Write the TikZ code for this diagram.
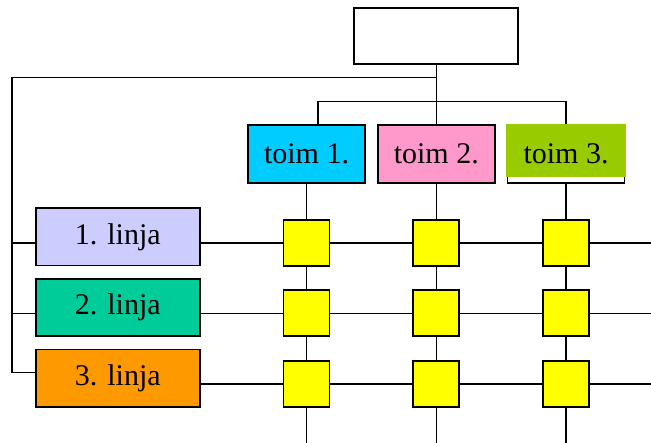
\documentclass[tikz,border=0pt]{standalone}
\usepackage{fontspec}
\setmainfont{Liberation Serif}
\usepackage{xcolor}
\usepackage{tikz}
\usetikzlibrary{positioning, calc}
\definecolor{toimcyan}{HTML}{00CCFF}
\definecolor{toimpink}{HTML}{FF99CC}
\definecolor{toimgreen}{HTML}{99CC00}
\definecolor{linjablue}{HTML}{CCCCFF}
\definecolor{linjateal}{HTML}{00CC99}
\definecolor{linjaorange}{HTML}{FF9900}
\definecolor{cellyellow}{HTML}{FFFF00}

\begin{document}
\begin{tikzpicture}[x=1pt, y=-1pt, every node/.style={font=\fontsize{30}{36}\selectfont}]
	\tikzstyle{conn}=[line width=1.5pt, draw=black]
	
	\tikzstyle{toimr}=[draw=black, line width=1.8pt, minimum height=58pt, minimum width=117pt, text=black, inner sep=0pt]
	
	\tikzstyle{linjar}=[draw=black, line width=1.8pt, minimum height=57.5pt, minimum width=164pt, text=black, inner sep=0pt]
	
	\tikzstyle{cellr}=[draw=black, line width=1.8pt, minimum height=46pt, minimum width=46pt, fill=cellyellow, inner sep=0pt]
	
	\useasboundingbox (0,0) rectangle (651,443);
	
	\node [toimr, minimum width=164pt, minimum height=56pt, fill=white] (Top) at (436.3,36.3) {};
	
	\node [toimr, fill=toimcyan] (T1) at (306.5,154.2) {toim 1.};
	\node [toimr, fill=toimpink] (T2) at (436.3,154.2) {toim 2.};
	\node [toimr, fill=white] (T3) at (566,154.2) {};
	\fill [toimgreen] ($(T3.north west)+(-0.2,-0.2)$) rectangle ($(T3.south east)+(0.2,-7.3)$);
	\node [text=black] (T3txt) at (T3.center) {toim 3.};
	
	\node [linjar, fill=linjablue] (L1) at (117.8,236.8) {1. linja};
	\node [linjar, fill=linjateal] (L2) at (117.8,307.5) {2. linja};
	\node [linjar, fill=linjaorange] (L3) at (117.8,378.2) {3. linja};
	
	\node [cellr] (S11) at (306.5,242.8) {};
	\node [cellr] (S12) at (436.3,242.8) {};
	\node [cellr] (S13) at (566,242.8) {};
	\node [cellr] (S21) at (306.5,313.3) {};
	\node [cellr] (S22) at (436.3,313.3) {};
	\node [cellr] (S23) at (566,313.3) {};
	\node [cellr] (S31) at (306.5,384.2) {};
	\node [cellr] (S32) at (436.3,384.2) {};
	\node [cellr] (S33) at (566,384.2) {};
	
	%% free ends of the connectors
	\coordinate (Jt) at (436.3,77.7);
	\coordinate (Jl) at (12,77.7);
	\coordinate (Jb) at (12,372.3);
	\coordinate (Bl) at (318,101.7);
	\coordinate (Br) at (566,101.7);
	\coordinate (R1) at (651,242.8);
	\coordinate (R2) at (651,313.3);
	\coordinate (R3) at (651,384.2);
	\coordinate (E1) at (306.5,443);
	\coordinate (E2) at (436.3,443);
	\coordinate (E3) at (566,443);
	
	\draw [conn] (Top.south) -- (T2.north);
	\draw [conn] (Jt) -- (Jl) -- (Jb) -- (Jb -| L3.west);
	\draw [conn] (Jl |- S11) -- (S11 -| L1.west);
	\draw [conn] (Jl |- S21) -- (S21 -| L2.west);
	\draw [conn] (Bl |- T1.north) -- (Bl) -- (Br) -- (T3.north);
	
	\draw [conn] (S11 -| L1.east) -- (S11.west);
	\draw [conn] (S11.east) -- (S12.west);
	\draw [conn] (S12.east) -- (S13.west);
	\draw [conn] (S13.east) -- (R1);
	\draw [conn] (S21 -| L2.east) -- (S21.west);
	\draw [conn] (S21.east) -- (S22.west);
	\draw [conn] (S22.east) -- (S23.west);
	\draw [conn] (S23.east) -- (R2);
	\draw [conn] (S31 -| L3.east) -- (S31.west);
	\draw [conn] (S31.east) -- (S32.west);
	\draw [conn] (S32.east) -- (S33.west);
	\draw [conn] (S33.east) -- (R3);
	
	\draw [conn] (T1.south) -- (S11.north);
	\draw [conn] (S11.south) -- (S21.north);
	\draw [conn] (S21.south) -- (S31.north);
	\draw [conn] (S31.south) -- (E1);
	\draw [conn] (T2.south) -- (S12.north);
	\draw [conn] (S12.south) -- (S22.north);
	\draw [conn] (S22.south) -- (S32.north);
	\draw [conn] (S32.south) -- (E2);
	\draw [conn] (T3.south) -- (S13.north);
	\draw [conn] (S13.south) -- (S23.north);
	\draw [conn] (S23.south) -- (S33.north);
	\draw [conn] (S33.south) -- (E3);
\end{tikzpicture}
\end{document}
